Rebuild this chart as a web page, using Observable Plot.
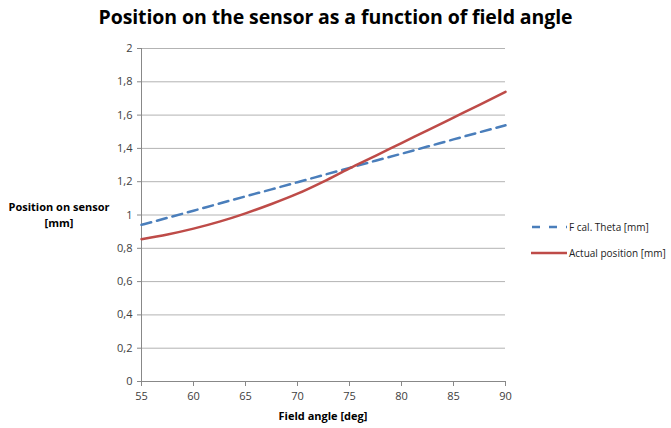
<!DOCTYPE html>
<html><head><meta charset="utf-8">
<script src="https://cdn.jsdelivr.net/npm/d3@7"></script>
<script src="https://cdn.jsdelivr.net/npm/@observablehq/plot@0.6"></script>
<style>
body{margin:0;background:#fff;font-family:"Open Sans",sans-serif;}
#wrap{position:relative;width:671px;height:428px;}
#title{position:absolute;left:0;width:671px;top:3px;text-align:center;font-weight:bold;font-size:19.5px;color:#000;letter-spacing:-0.1px;}
#ylab{position:absolute;left:0;width:118px;top:199px;text-align:center;font-weight:bold;font-size:11px;line-height:16px;color:#000;}
#xlab{position:absolute;left:141px;width:364px;top:408px;text-align:center;font-weight:bold;font-size:11px;color:#000;}
#legend{position:absolute;left:531px;top:214px;font-size:10px;color:#222;white-space:nowrap;}
.li{display:flex;align-items:center;height:26px;white-space:nowrap;}
.li svg{margin-right:2px;flex:none;}
</style></head>
<body><div id="wrap">
<div id="title">Position on the sensor as a function of field angle</div>
<div id="ylab">Position on sensor<br>[mm]</div>
<div id="xlab">Field angle [deg]</div>
<div id="legend"></div>
</div>
<script>
const angles = [55, 57.5, 60, 62.5, 65, 67.5, 70, 72.5, 75, 77.5, 80, 82.5, 85, 87.5, 90];
const fTheta = [0.941, 0.983, 1.026, 1.069, 1.112, 1.154, 1.197, 1.240, 1.283, 1.326, 1.368, 1.411, 1.454, 1.497, 1.539];
const actual = [0.855, 0.883, 0.918, 0.960, 1.010, 1.066, 1.128, 1.201, 1.280, 1.355, 1.432, 1.508, 1.585, 1.662, 1.740];
const seriesNames = ["F cal. Theta [mm]", "Actual position [mm]"];
const colors = ["#4a7ebb", "#be4b48"];
const yTicks = [0, 0.2, 0.4, 0.6, 0.8, 1, 1.2, 1.4, 1.6, 1.8, 2];
const xTicks = [55, 60, 65, 70, 75, 80, 85, 90];

const rows = [];
angles.forEach((a, i) => {
  rows.push({angle: a, value: fTheta[i], series: seriesNames[0]});
  rows.push({angle: a, value: actual[i], series: seriesNames[1]});
});
const fmt = d => String(d).replace(".", ",");

const chart = Plot.plot({
  width: 671, height: 428,
  marginLeft: 141, marginRight: 166, marginTop: 48, marginBottom: 47,
  style: {fontFamily: "Open Sans, sans-serif", fontSize: "11px", color: "#595959", background: "transparent"},
  x: {domain: [55, 90], ticks: xTicks, tickFormat: fmt, label: null},
  y: {domain: [0, 2], ticks: yTicks, tickFormat: fmt, label: null},
  marks: [
    Plot.gridY(yTicks, {stroke: "#b3b3b3", strokeOpacity: 1, strokeWidth: 1}),
    Plot.ruleX([55], {stroke: "#888", strokeWidth: 1}),
    Plot.ruleY([0], {stroke: "#888", strokeWidth: 1}),
    Plot.axisY(yTicks, {tickFormat: fmt, tickSize: 4, stroke: "#888", tickPadding: 5, fill: "#404040"}),
    Plot.axisX(xTicks, {tickFormat: fmt, tickSize: 5, stroke: "#888", tickPadding: 6, fill: "#404040"}),
    Plot.line(rows.filter(d => d.series === seriesNames[0]), {x: "angle", y: "value", stroke: colors[0], strokeWidth: 2.5, strokeDasharray: "10,6", curve: "monotone-x"}),
    Plot.line(rows.filter(d => d.series === seriesNames[1]), {x: "angle", y: "value", stroke: colors[1], strokeWidth: 2.5, curve: "monotone-x"})
  ]
});
chart.style.position = "absolute";
chart.style.left = "0";
chart.style.top = "0";
const wrap = document.getElementById("wrap");
wrap.insertBefore(chart, wrap.firstChild);

const leg = document.getElementById("legend");
seriesNames.forEach((n, i) => {
  const d = document.createElement("div");
  d.className = "li";
  d.innerHTML = `<svg width="36" height="6"><line x1="0" y1="3" x2="36" y2="3" stroke="${colors[i]}" stroke-width="2.5" ${i === 0 ? 'stroke-dasharray="8,9" stroke-dashoffset="-1"' : ''}/></svg><span>${n}</span>`;
  leg.appendChild(d);
});
</script>
</body></html>
